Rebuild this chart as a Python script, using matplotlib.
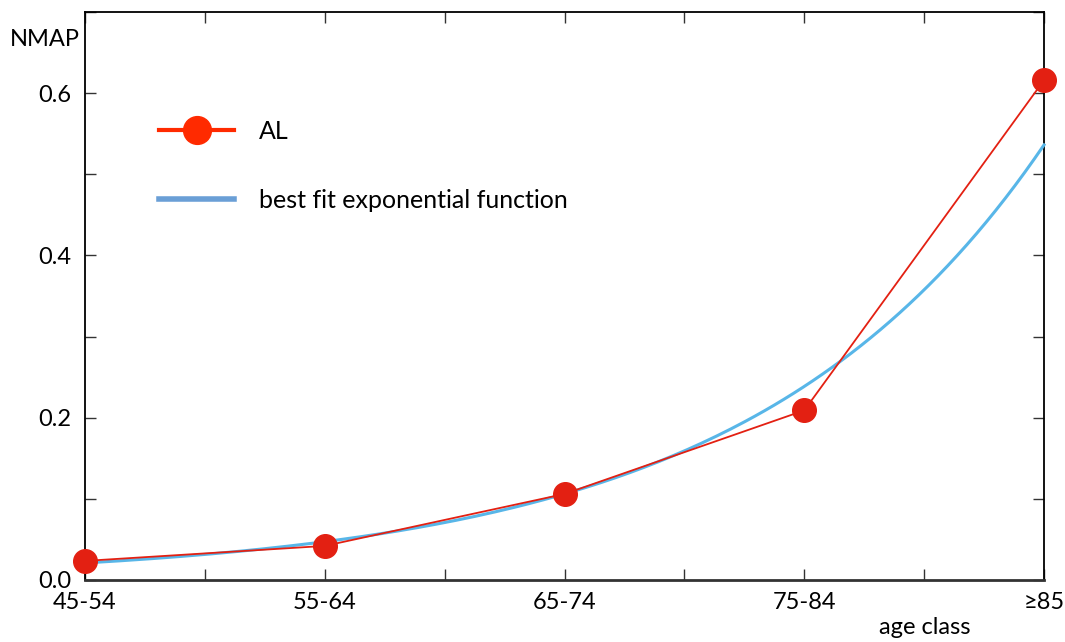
import numpy as np
import matplotlib.pyplot as plt
from matplotlib.ticker import MultipleLocator

# age classes and observed NMAP values
age_classes = ['45-54', '55-64', '65-74', '75-84', '\u226585']
nmap_al = [0.0235, 0.042, 0.106, 0.209, 0.616]

# exponential fit  y = a * exp(b * i)
fit_a = 0.021
fit_b = 0.81

plt.rcParams['font.family'] = ['Lato', 'DejaVu Sans']

fig = plt.figure(figsize=(10.65, 6.42), dpi=100, facecolor='white')
ax = fig.add_axes([0.0798, 0.0966, 0.9005, 0.8847])

xpos = np.arange(len(age_classes))
xfit = np.linspace(0, len(age_classes) - 1, 200)
yfit = fit_a * np.exp(fit_b * xfit)

ax.plot(xfit, yfit, color='#58b6e8', lw=2.2, zorder=3, clip_on=False)
ax.plot(xpos, nmap_al, color='#e32012', lw=1.3, marker='o', ms=17,
        markerfacecolor='#e32012', markeredgecolor='#e32012', zorder=4,
        clip_on=False)

ax.set_xlim(0, 4)
ax.set_ylim(0, 0.7)
ax.set_xticks(xpos)
ax.set_xticklabels(age_classes)
ax.xaxis.set_minor_locator(MultipleLocator(0.5))
ax.set_yticks([0.0, 0.2, 0.4, 0.6])
ax.set_yticklabels(['0.0', '0.2', '0.4', '0.6'])
ax.yaxis.set_minor_locator(MultipleLocator(0.1))

ax.tick_params(which='both', direction='in', top=True, right=True,
               length=8, width=1, color='#333333', labelsize=17)
ax.tick_params(axis='x', which='major', pad=9)
ax.tick_params(axis='y', which='major', pad=10)
ax.tick_params(axis='y', which='minor', length=8)

for s in ax.spines.values():
    s.set_linewidth(1.3)
    s.set_color('black')
ax.spines['bottom'].set_linewidth(2)
ax.spines['bottom'].set_color('#333333')

fig.text(0.009, 0.938, 'NMAP', fontsize=17, ha='left', va='center')
fig.text(0.868, 0.022, 'age class', fontsize=17, ha='center', va='center')

# legend entries drawn as proxies
h1, = ax.plot([], [], color='#ff2a00', lw=3, marker='o', ms=20,
              markerfacecolor='#ff2a00', markeredgecolor='#ff2a00')
h2, = ax.plot([], [], color='#6a9fd6', lw=4)
ax.legend([h1, h2], ['AL', 'best fit exponential function'],
          loc='upper left', bbox_to_anchor=(0.054, 0.85), frameon=False,
          fontsize=18, handlelength=3.0, handletextpad=1.0,
          labelspacing=1.85)

fig.savefig('out.png', dpi=100)
